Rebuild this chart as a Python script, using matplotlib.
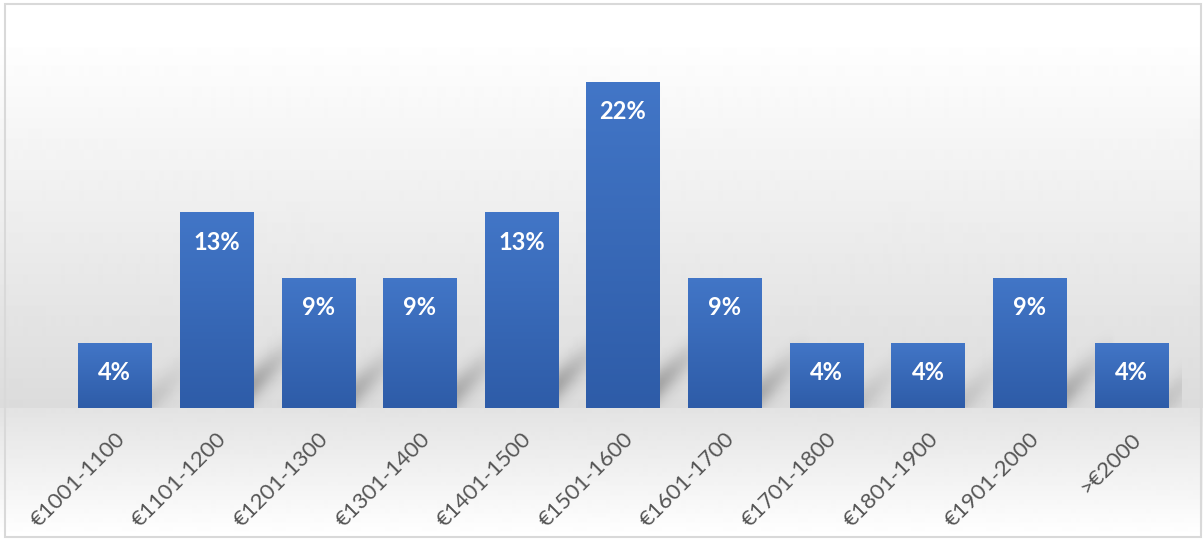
import numpy as np
import matplotlib
matplotlib.use("Agg")
import matplotlib.pyplot as plt
from matplotlib.colors import LinearSegmentedColormap
from matplotlib.patches import Rectangle

categories = ["€1001-1100", "€1101-1200", "€1201-1300", "€1301-1400", "€1401-1500",
              "€1501-1600", "€1601-1700", "€1701-1800", "€1801-1900", "€1901-2000", ">€2000"]
counts = [1, 3, 2, 2, 3, 5, 2, 1, 1, 2, 1]
shares = [100 * c / sum(counts) for c in counts]

W, H = 1203, 540
fig = plt.figure(figsize=(W / 100, H / 100), dpi=100)

# soft grey background: light at the top, darkest at the axis, fading out below it
rows = np.ones(H)
y = np.arange(H)
upper = (y >= 48) & (y < 408)
rows[upper] = np.interp(y[upper], [48, 408], [0.995, 0.86])
lower = y >= 408
rows[lower] = np.interp(y[lower], [408, 536], [0.89, 1.0])
bg = fig.add_axes([0, 0, 1, 1])
bg.imshow(rows[:, None], cmap="gray", vmin=0, vmax=1, aspect="auto",
          extent=[0, 1, 0, 1], interpolation="bilinear")
bg.set_axis_off()
fig.add_artist(Rectangle((5 / W, 3 / H), 1196 / W, 533 / H, transform=fig.transFigure,
                         fill=False, ec="#d9d9d9", lw=1.5))

ax = fig.add_axes([64 / W, 132 / H, 1118 / W, 360 / H])
ax.patch.set_alpha(0)
x = np.arange(len(categories))
for s in ax.spines.values():
    s.set_visible(False)
ax.set_yticks([])

# perspective shadow to the lower right of each bar
nx, ny = 1118, 360
PX, PY = np.meshgrid(np.arange(nx) + 0.5, np.arange(ny) + 0.5)
alpha = np.zeros((ny, nx))
for xi, v in zip(x, shares):
    xr = (xi + 0.36 + 0.5) * nx / len(categories)
    hp = v * ny / 24
    d = PX - xr
    c = min(24, 0.12 * hp)
    amp = 0.26 * min(1, hp / 150)
    band = np.exp(-0.5 * ((PY - 0.9 * d - c) / 12) ** 2)
    fade = np.clip(1 - d / 50, 0, 1) * (d > -3)
    alpha = np.maximum(alpha, amp * band * fade)
shadow = np.zeros((ny, nx, 4))
shadow[..., 3] = alpha
ax.imshow(shadow, extent=[-0.5, len(categories) - 0.5, 0, 24], origin="lower",
          aspect="auto", interpolation="bilinear", zorder=1)

ax.axhline(0, color="#dedede", lw=1, zorder=2)

bar_cmap = LinearSegmentedColormap.from_list("bar", ["#2e5ca8", "#4276c7"])
grad = np.linspace(0, 1, 128)[:, None]
bars = ax.bar(x, shares, width=0.72, color="#3867b6", zorder=3)
for b in bars:
    im = ax.imshow(grad, cmap=bar_cmap, origin="lower", aspect="auto",
                   extent=[b.get_x(), b.get_x() + b.get_width(), 0, b.get_height()], zorder=4)
    im.set_clip_path(b)

for xi, v in zip(x, shares):
    ax.annotate(f"{v:.0f}%", (xi, v), xytext=(0, -30), textcoords="offset pixels",
                ha="center", va="center", color="white", fontweight="bold",
                fontsize=17, family="Lato", zorder=5)

ax.set_xlim(-0.5, len(categories) - 0.5)
ax.set_ylim(0, 24)
ax.set_xticks(x)
ax.set_xticklabels(categories, rotation=45, ha="right", va="top", rotation_mode="anchor",
                   color="#555555", fontsize=16, family="Lato")
ax.tick_params(axis="x", length=0, pad=15)

fig.savefig("out.png", dpi=100)
